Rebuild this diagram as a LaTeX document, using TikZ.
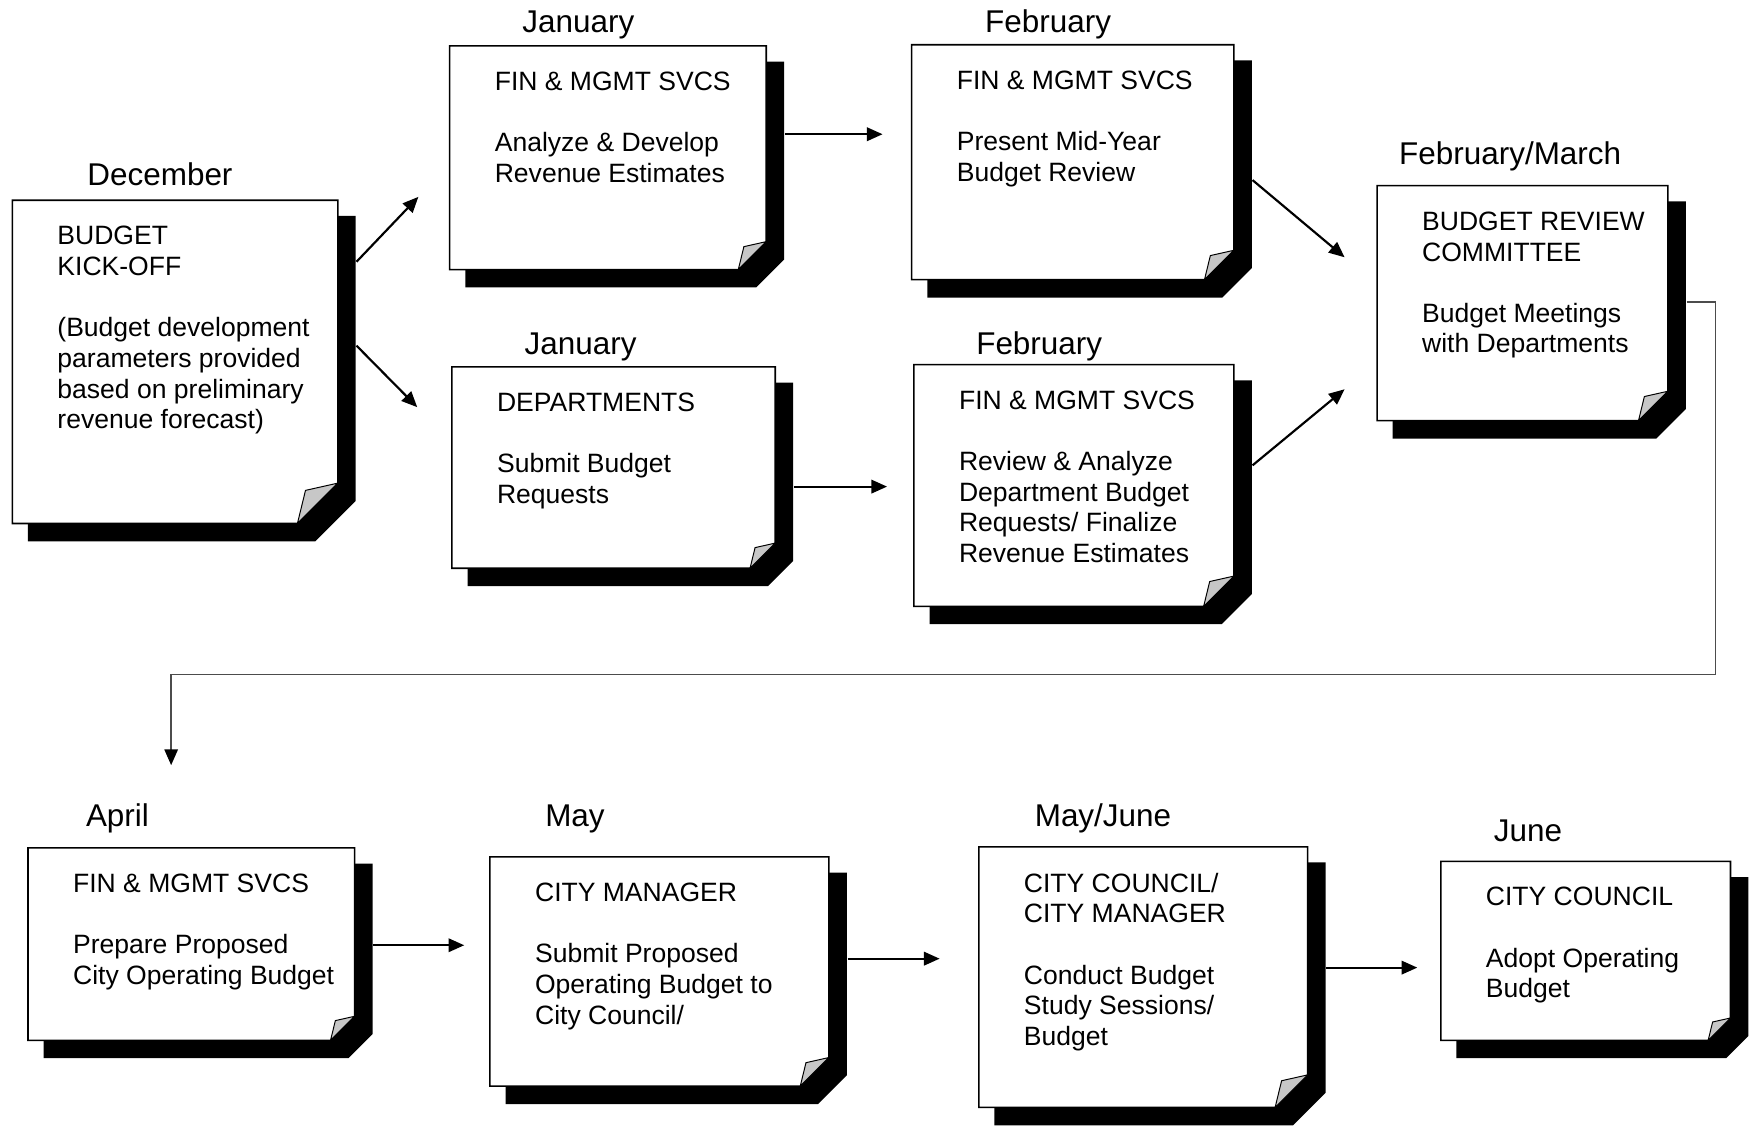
\documentclass[tikz,border=0pt]{standalone}
\usepackage{fontspec}
\setmainfont{Liberation Sans}
\usetikzlibrary{arrows.meta}

\tikzset{
  arr/.style={line width=1.1pt, -{Triangle[length=0.28cm,width=0.24cm]}},
  elbow/.style={line width=0.7pt, draw=black!70, -{Triangle[length=0.28cm,width=0.24cm,color=black]}},
  month/.style={anchor=base, inner sep=0, font=\fontsize{16}{19}\selectfont},
  notetext/.style={anchor=north west, inner sep=0, align=left, font=\fontsize{13.5}{15.6}\selectfont},
  noteframe/.style={anchor=north west, inner sep=0},
}

% folded note with shadow: name, left, top, right, bottom, text
\newcommand{\notecard}[6]{%
  \pgfmathsetmacro{\fc}{(#5-#3)/8}
  \fill (#2+14,#3+14) -- (#4+16,#3+14) -- (#4+16,#5+16-\fc) -- (#4+16-\fc,#5+16) -- (#2+14,#5+16) -- cycle;
  \draw[line width=0.8pt, fill=white] (#2,#3) -- (#4,#3) -- (#4,#5-\fc) -- (#4-\fc,#5) -- (#2,#5) -- cycle;
  \draw[line width=0.5pt, fill=black!22] (#4,#5-\fc) -- (#4-0.8*\fc,#5-0.82*\fc) -- (#4-\fc,#5) -- cycle;
  \node[noteframe, minimum width={(#4-#2)*0.02cm}, minimum height={(#5-#3)*0.02cm}] (#1) at (#2,#3) {};
  \node[notetext] (#1-txt) at (#2+40,#3+23) {#6};
}
\newcommand{\blank}{\\[15.6pt]}

\begin{document}
\begin{tikzpicture}[x=0.02cm, y=-0.02cm]
    \useasboundingbox (0,0) rectangle (1568,1007);

    % Months
    \node[month] (dec) at (143,166) {December};
    \node[month] (jan1) at (517,29) {January};
    \node[month] (feb1) at (937,29) {February};
    \node[month] (jan2) at (519,317) {January};
    \node[month] (feb2) at (929,317) {February};
    \node[month] (febmar) at (1350,147) {February/March};
    \node[month] (apr) at (105,739) {April};
    \node[month] (may) at (514,739) {May};
    \node[month] (mayjun) at (986,739) {May/June};
    \node[month] (jun) at (1366,752) {June};

    % Top row
    \notecard{kick}{11}{179}{302}{468}{BUDGET\\KICK-OFF\blank (Budget development\\parameters provided\\based on preliminary\\revenue forecast)}
    \notecard{rev}{402}{41}{685}{241}{FIN \& MGMT SVCS\blank Analyze \& Develop\\Revenue Estimates}
    \notecard{dept}{404}{328}{693}{508}{DEPARTMENTS\blank Submit Budget\\Requests}
    \notecard{midyr}{815}{40}{1103}{250}{FIN \& MGMT SVCS\blank Present Mid-Year\\Budget Review}
    \notecard{analyze}{817}{326}{1103}{542}{FIN \& MGMT SVCS\blank Review \& Analyze\\Department Budget\\Requests/ Finalize\\Revenue Estimates}
    \notecard{brc}{1231}{166}{1491}{376}{BUDGET REVIEW\\COMMITTEE\blank Budget Meetings\\with Departments}

    % Bottom row
    \notecard{prep}{25}{758}{317}{930}{FIN \& MGMT SVCS\blank Prepare Proposed\\City Operating Budget}
    \notecard{cm}{438}{766}{741}{971}{CITY MANAGER\blank Submit Proposed\\Operating Budget to\\City Council/}
    \notecard{study}{875}{757}{1169}{990}{CITY COUNCIL/\\CITY MANAGER\blank Conduct Budget\\Study Sessions/\\Budget}
    \notecard{adopt}{1288}{770}{1547}{930}{CITY COUNCIL\blank Adopt Operating\\Budget}

    % Arrow ends
    \coordinate (toRev) at (374,176);
    \coordinate (toDept) at (373,364);
    \coordinate (toMidyr) at (789,120);
    \coordinate (toAnalyze) at (793,435);
    \coordinate (toBrc1) at (1202,230);
    \coordinate (toBrc2) at (1202,348);
    \coordinate (toPrep) at (153,684);
    \coordinate (toCm) at (415,845);
    \coordinate (toStudy) at (840,857);
    \coordinate (toAdopt) at (1267,865);

    % Connectors
    \draw[arr] ([shift={(16,55)}]kick.north east) -- (toRev);
    \draw[arr] ([shift={(16,130)}]kick.north east) -- (toDept);
    \draw[arr] ([shift={(16,79)}]rev.north east) -- (toMidyr);
    \draw[arr] ([shift={(16,107)}]dept.north east) -- (toAnalyze);
    \draw[arr] ([shift={(16,121)}]midyr.north east) -- (toBrc1);
    \draw[arr] ([shift={(16,90)}]analyze.north east) -- (toBrc2);
    \draw[elbow] ([shift={(16,104)}]brc.north east) -- ++(26,0) |- (153,603) -- (toPrep);
    \draw[arr] ([shift={(16,87)}]prep.north east) -- (toCm);
    \draw[arr] ([shift={(16,91)}]cm.north east) -- (toStudy);
    \draw[arr] ([shift={(16,108)}]study.north east) -- (toAdopt);
\end{tikzpicture}
\end{document}
